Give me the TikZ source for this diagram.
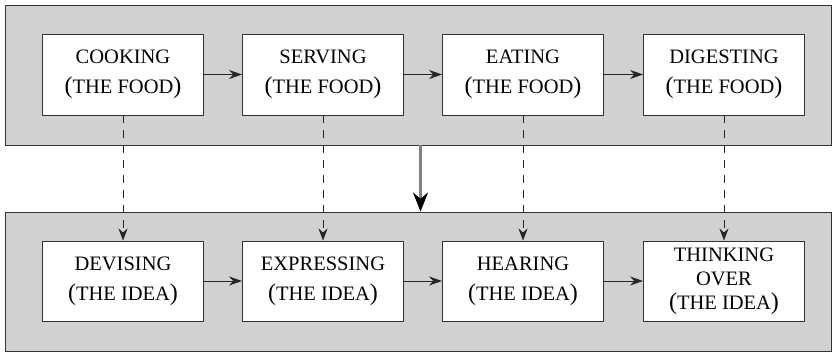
\documentclass[tikz,border=0pt]{standalone}
\usepackage{fontspec}
\setmainfont{Liberation Serif}
\usetikzlibrary{arrows.meta}

\newcommand{\bigparen}[1]{{\fontsize{24}{24}\selectfont(}#1{\fontsize{24}{24}\selectfont)}}

\tikzset{
  panel/.style={draw=black!80, fill=black!18, line width=0.9pt, inner sep=0pt},
  stagebox/.style={draw=black!80, fill=white, line width=0.9pt, inner sep=0pt,
    minimum width=161pt, minimum height=81pt, align=center,
    font=\fontsize{20.5}{30}\selectfont},
  flow/.style={-{Stealth[length=13pt,width=9pt]}, draw=black!85, line width=0.9pt},
  link/.style={-{Stealth[length=12pt,width=9pt]}, draw=black!85, line width=0.8pt,
    dash pattern=on 8pt off 7pt},
  shiftarrow/.style={-{Stealth[length=19pt,width=15pt,black]}, draw=black!50, line width=2.8pt}
}

\begin{document}
\begin{tikzpicture}[x=1pt,y=-1pt]
\useasboundingbox (0,0) rectangle (833,353);

\node[panel, minimum width=826pt, minimum height=140pt] (food) at (418,75) {};
\node[panel, minimum width=826pt, minimum height=139pt] (idea) at (418,281.5) {};

\node[stagebox] (cook) at (123,74.5) {COOKING\\\bigparen{THE FOOD}};
\node[stagebox] (serve) at (323,74.5) {SERVING\\\bigparen{THE FOOD}};
\node[stagebox] (eat) at (523,74.5) {EATING\\\bigparen{THE FOOD}};
\node[stagebox] (digest) at (724,74.5) {DIGESTING\\\bigparen{THE FOOD}};

\node[stagebox, minimum height=80pt] (devise) at (123,281) {DEVISING\\\bigparen{THE IDEA}};
\node[stagebox, minimum height=80pt] (express) at (323,281) {EXPRESSING\\\bigparen{THE IDEA}};
\node[stagebox, minimum height=80pt] (hear) at (523,281) {HEARING\\\bigparen{THE IDEA}};
\node[stagebox, minimum height=80pt, font=\fontsize{20.5}{24}\selectfont] (think) at (724,281) {THINKING\\OVER\\\bigparen{THE IDEA}};

\draw[flow] (cook) -- (serve);
\draw[flow] (serve) -- (eat);
\draw[flow] (eat) -- (digest);
\draw[flow] (devise) -- (express);
\draw[flow] (express) -- (hear);
\draw[flow] (hear) -- (think);

\draw[link] (cook) -- (devise);
\draw[link] (serve) -- (express);
\draw[link] (eat) -- (hear);
\draw[link] (digest) -- (think);

\draw[shiftarrow] ([xshift=2.5pt]food.south) -- ([xshift=2.5pt]idea.north);
\end{tikzpicture}
\end{document}
